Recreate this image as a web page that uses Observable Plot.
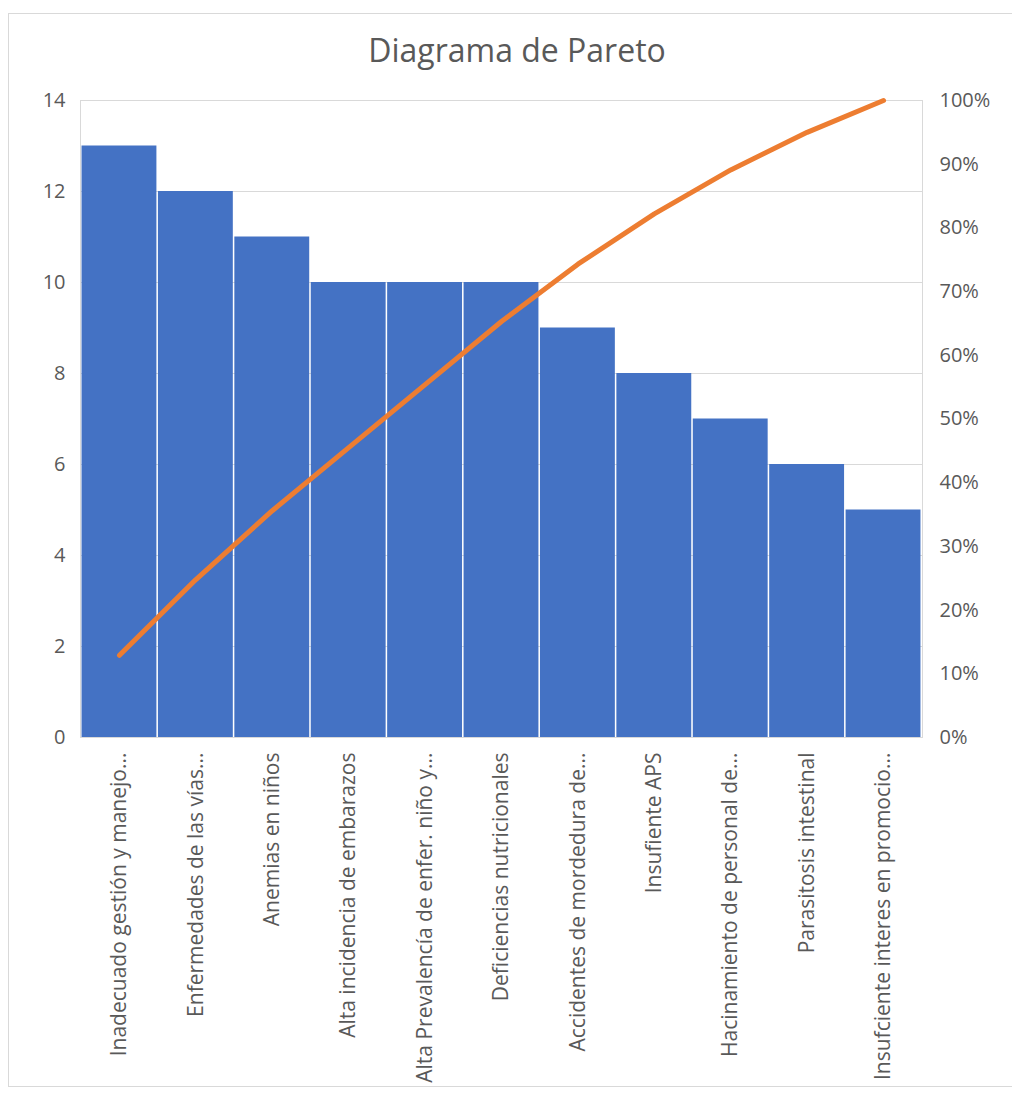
<!DOCTYPE html>
<html><head><meta charset="utf-8">
<script src="https://cdn.jsdelivr.net/npm/d3@7"></script>
<script src="https://cdn.jsdelivr.net/npm/@observablehq/plot@0.6"></script>
<style>
body{margin:0;background:#fff;font-family:"Open Sans",sans-serif;}
#wrap{position:relative;width:1012px;height:1094px;overflow:hidden;}
#border{position:absolute;left:8px;top:13px;width:1020px;height:1074px;border:1px solid #d9d9d9;box-sizing:border-box;}
#title{position:relative;height:85px;}
#title span{position:absolute;left:0;width:1012px;padding-left:22px;box-sizing:border-box;top:29px;line-height:42px;text-align:center;font-size:32px;color:#595959;}
#chart{position:relative;}
</style>
</head><body>
<div id="wrap">
<div id="border"></div>
<div id="title"><span>Diagrama de Pareto</span></div>
<div id="chart"></div>
</div>
<script>
const categories = [
  "Inadecuado gestión y manejo...",
  "Enfermedades de las vías...",
  "Anemias en niños",
  "Alta incidencia de embarazos",
  "Alta Prevalencía de enfer. niño y...",
  "Deficiencias nutricionales",
  "Accidentes de mordedura de...",
  "Insufiente APS",
  "Hacinamiento de personal de...",
  "Parasitosis intestinal",
  "Insufciente interes en promocio..."
];
const counts = [13, 12, 11, 10, 10, 10, 9, 8, 7, 6, 5];
const cumulativePct = [12.9, 24.8, 35.6, 45.5, 55.4, 65.3, 74.3, 82.2, 89.1, 95.0, 100];
const leftTicks = [0, 2, 4, 6, 8, 10, 12, 14];
const rightTicks = [0, 10, 20, 30, 40, 50, 60, 70, 80, 90, 100];
const yMax = 14;

const rows = categories.map((c, i) => ({cat: c, count: counts[i], pct: cumulativePct[i]}));

const chart = Plot.plot({
  width: 1012,
  height: 1009,
  marginTop: 15,
  marginBottom: 357,
  marginLeft: 80,
  marginRight: 90,
  style: {fontFamily: "'Open Sans', sans-serif", fontSize: "17px", color: "#595959", background: "transparent"},
  x: {domain: categories, padding: 0.02, round: false, label: null},
  y: {domain: [0, yMax], label: null},
  marks: [
    Plot.ruleY(leftTicks, {stroke: "#d9d9d9", strokeWidth: 1}),
    Plot.frame({stroke: "#d9d9d9"}),
    Plot.barY(rows, {x: "cat", y: "count", fill: "#4472C4"}),
    Plot.lineY(rows, {x: "cat", y: d => d.pct / 100 * yMax, stroke: "#ED7D31", strokeWidth: 5, strokeLinecap: "round"}),
    Plot.axisY(leftTicks, {anchor: "left", tickSize: 0, tickPadding: 15, fontSize: 20, label: null}),
    Plot.axisY(rightTicks.map(p => p / 100 * yMax), {anchor: "right", tickSize: 0, tickPadding: 17, fontSize: 20, label: null,
      tickFormat: d => Math.round(d / yMax * 100) + "%"}),
    Plot.axisX({tickSize: 0, tickRotate: -90, tickPadding: 15, fontSize: 21, label: null})
  ]
});
document.getElementById("chart").appendChild(chart);
</script>
</body></html>
